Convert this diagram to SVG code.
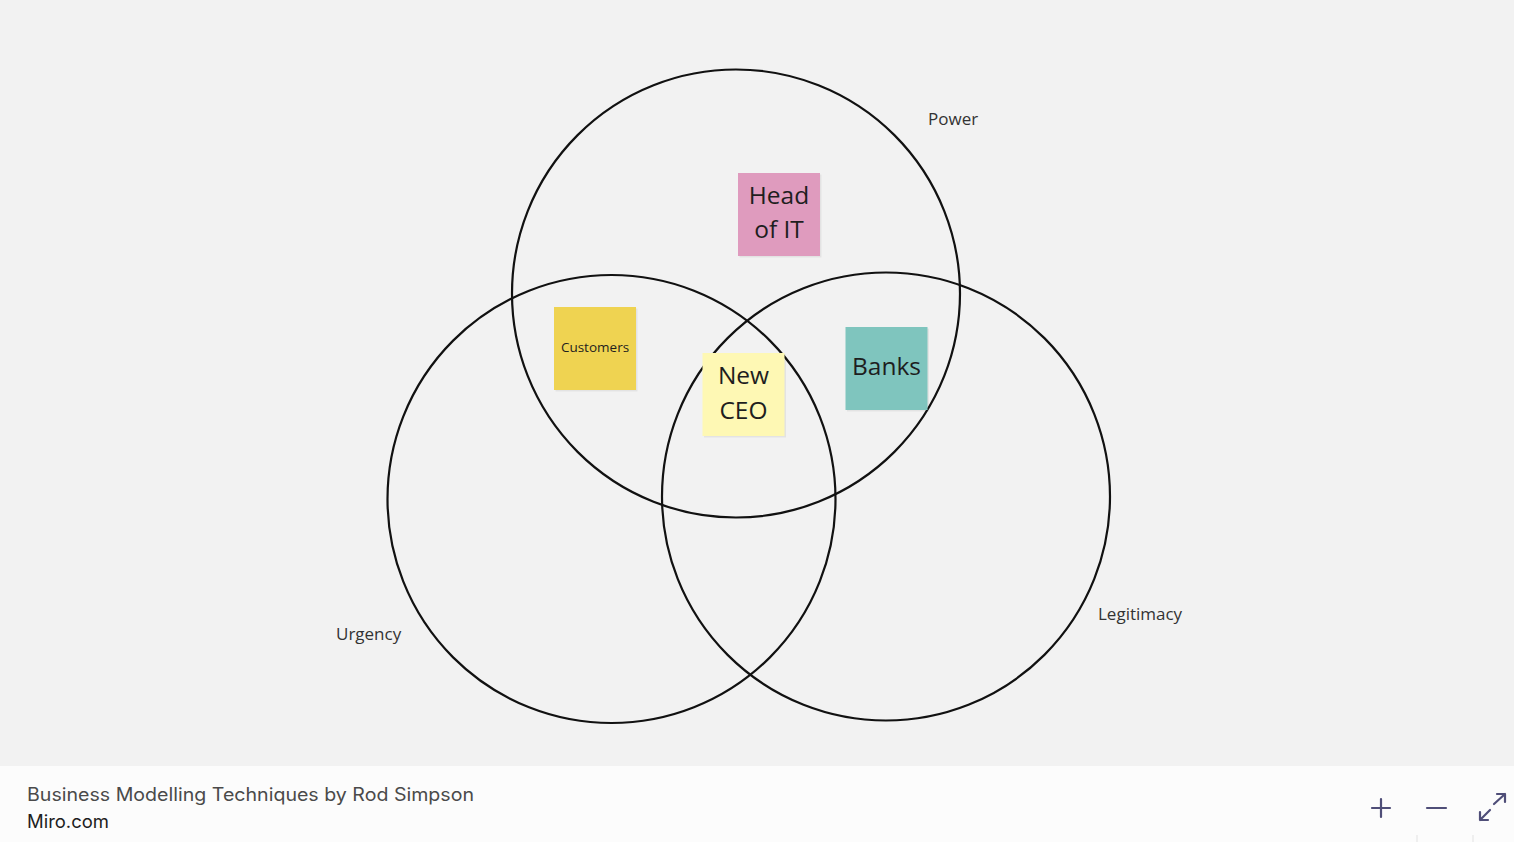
<svg xmlns="http://www.w3.org/2000/svg" width="1514" height="842" viewBox="0 0 1514 842">
<defs>
<style>
.circle{fill:none;stroke:#111;stroke-width:2.2}
.lbl{font-family:"Open Sans","Liberation Sans",sans-serif;font-size:17px;fill:#333}
.note-text{font-family:"Open Sans","Liberation Sans",sans-serif;fill:#1e1e1e;text-anchor:middle}
.shadow{fill:#000;opacity:0.06}
.icon{stroke:#4f4e78;stroke-width:2.2;fill:none;stroke-linecap:round;stroke-linejoin:round}
</style>
</defs>
<rect width="1514" height="842" fill="#f2f2f2"/>

<g id="connectors"></g>

<g id="circle-power">
<circle class="circle" cx="736" cy="293.5" r="224"/>
<text class="lbl" x="928" y="125">Power</text>
</g>
<g id="circle-urgency">
<circle class="circle" cx="611.5" cy="499" r="224"/>
<text class="lbl" x="336" y="640">Urgency</text>
</g>
<g id="circle-legitimacy">
<circle class="circle" cx="886" cy="496.5" r="224"/>
<text class="lbl" x="1098" y="620">Legitimacy</text>
</g>

<g id="note-head-of-it">
<rect class="shadow" x="739.5" y="174.5" width="82" height="83"/>
<rect x="738" y="173" width="82" height="83" fill="#df9bbe"/>
<text class="note-text" font-size="24.5" x="779" y="204">Head</text>
<text class="note-text" font-size="24.5" x="779" y="238">of IT</text>
</g>

<g id="note-customers">
<rect class="shadow" x="555.5" y="308.5" width="82" height="83"/>
<rect x="554" y="307" width="82" height="83" fill="#efd351"/>
<text class="note-text" font-size="13.5" x="595" y="352">Customers</text>
</g>

<g id="note-new-ceo">
<rect class="shadow" x="704" y="354.5" width="82" height="83"/>
<rect x="702.5" y="353" width="82" height="83" fill="#fef8b4"/>
<text class="note-text" font-size="24.5" x="743.5" y="384">New</text>
<text class="note-text" font-size="24.5" x="743.5" y="419">CEO</text>
</g>

<g id="note-banks">
<rect class="shadow" x="847" y="328.5" width="82" height="83"/>
<rect x="845.5" y="327" width="82" height="83" fill="#7fc5be"/>
<text class="note-text" font-size="24.5" x="886.5" y="375">Banks</text>
</g>

<g id="footer">
<rect x="0" y="766" width="1514" height="76" fill="#fcfcfc"/>
<text x="27" y="801" font-family="Inter,'Liberation Sans',sans-serif" font-size="18" fill="#4a4a4a" textLength="447" lengthAdjust="spacingAndGlyphs">Business Modelling Techniques by Rod Simpson</text>
<text x="27" y="828" font-family="Inter,'Liberation Sans',sans-serif" font-size="18" fill="#1e1e1e" textLength="82" lengthAdjust="spacingAndGlyphs">Miro.com</text>
<line x1="1417" y1="835" x2="1417" y2="842" stroke="#e2e2e2" stroke-width="1"/>
<line x1="1473" y1="835" x2="1473" y2="842" stroke="#e2e2e2" stroke-width="1"/>
<path class="icon" d="M1381 799 V817 M1372 808 H1390"/>
<path class="icon" d="M1427 808 H1446"/>
<path class="icon" d="M1494 804 L1505 794 M1497 794 H1505 V802"/>
<path class="icon" d="M1490 810 L1480 820 M1480 812 V820 H1488"/>
</g>
</svg>
